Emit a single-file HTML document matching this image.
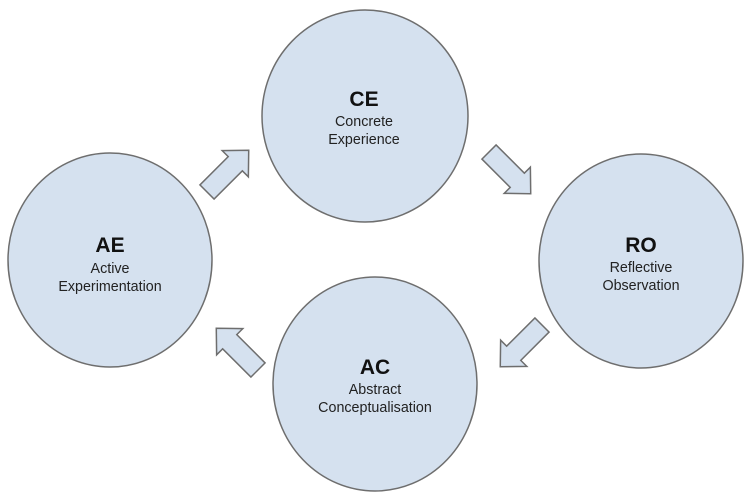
<!DOCTYPE html>
<html><head><style>
html,body{margin:0;padding:0;background:#fff;}
svg{display:block;}
text{font-family:"Liberation Sans",Arial,sans-serif;text-anchor:middle;fill:#222;}
.b{font-weight:bold;font-size:21px;fill:#111;}
.s{font-size:14.3px;}
</style></head><body>
<svg width="750" height="500" viewBox="0 0 750 500">
<defs>
<polygon id="arr" points="0,-10 40,-10 40,-18.5 59,0 40,18.5 40,10 0,10" fill="#d5e1ef" stroke="#6e6e6e" stroke-width="1.5" stroke-linejoin="miter"/>
</defs>
<g fill="#d5e1ef" stroke="#6e6e6e" stroke-width="1.5">
<ellipse cx="365" cy="116" rx="103" ry="106"/>
<ellipse cx="641" cy="261" rx="102" ry="107"/>
<ellipse cx="375" cy="384" rx="102" ry="107"/>
<ellipse cx="110" cy="260" rx="102" ry="107"/>
</g>
<use href="#arr" transform="translate(207,192) rotate(-45)"/>
<use href="#arr" transform="translate(489,152) rotate(45)"/>
<use href="#arr" transform="translate(542,325) rotate(135)"/>
<use href="#arr" transform="translate(258,370) rotate(-135)"/>
<text class="b" x="364" y="106">CE</text>
<text class="s" x="364" y="126">Concrete</text>
<text class="s" x="364" y="144">Experience</text>
<text class="b" x="641" y="252">RO</text>
<text class="s" x="641" y="272">Reflective</text>
<text class="s" x="641" y="290">Observation</text>
<text class="b" x="375" y="374">AC</text>
<text class="s" x="375" y="394">Abstract</text>
<text class="s" x="375" y="412">Conceptualisation</text>
<text class="b" x="110" y="252">AE</text>
<text class="s" x="110" y="273">Active</text>
<text class="s" x="110" y="291">Experimentation</text>
</svg>
</body></html>
